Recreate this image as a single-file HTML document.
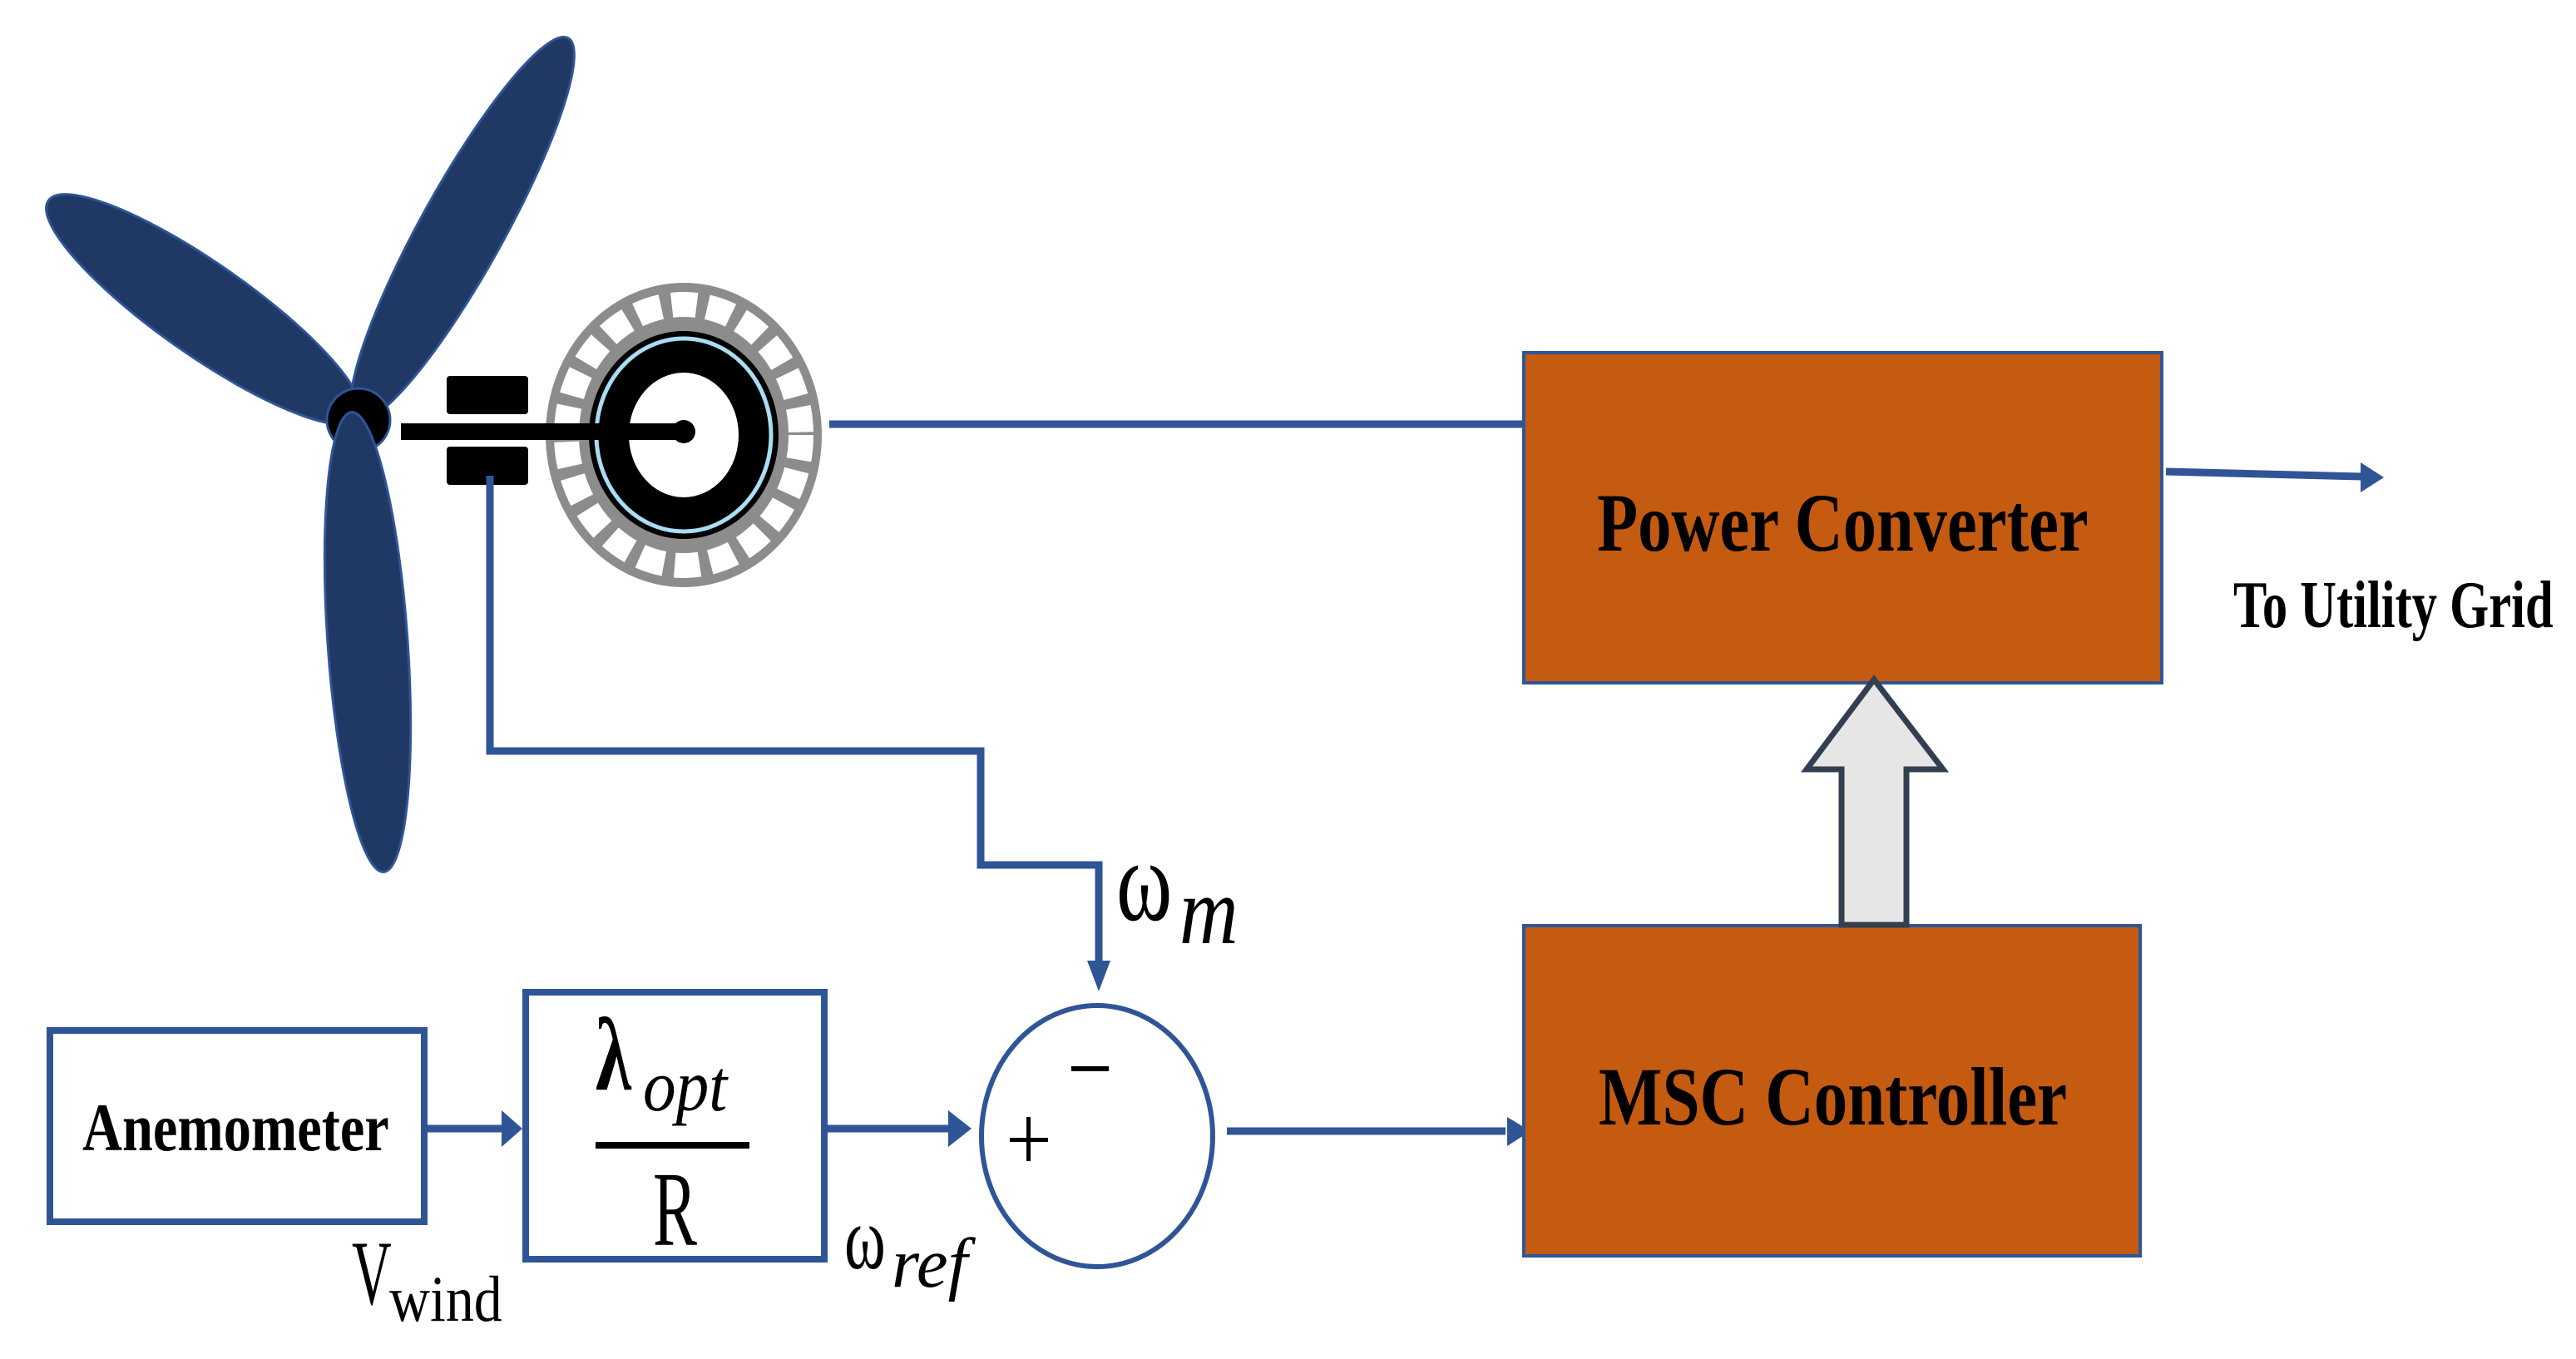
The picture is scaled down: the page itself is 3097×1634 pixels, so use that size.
<!DOCTYPE html>
<html><head><meta charset="utf-8"><style>
html,body{margin:0;padding:0;background:#fff;}
svg{display:block;}
.t{font-family:"Liberation Serif",serif;font-weight:bold;fill:#000;}
.s{font-family:"Liberation Serif",serif;fill:#000;}
</style></head><body>
<svg width="3097" height="1634" viewBox="0 0 3097 1634" xmlns="http://www.w3.org/2000/svg">
<rect width="3097" height="1634" fill="#fff"/>
<!-- blades -->
<g fill="#203864" stroke="#2f5597" stroke-width="3">
<ellipse cx="0" cy="0" rx="228" ry="55" transform="translate(245,372) rotate(35)"/>
<ellipse cx="0" cy="0" rx="262" ry="50" transform="translate(556,275) rotate(-61)"/>
</g>
<circle cx="431" cy="505" r="38" fill="#000" stroke="#2f5597" stroke-width="3"/>
<ellipse cx="0" cy="0" rx="277" ry="48" transform="translate(442,772) rotate(86)" fill="#203864" stroke="#2f5597" stroke-width="3"/>
<!-- generator -->
<ellipse cx="822" cy="523" rx="166" ry="183" fill="#8c8c8c"/>
<ellipse cx="822" cy="523" rx="141" ry="157" fill="none" stroke="#fff" stroke-width="30" stroke-dasharray="30 13"/>
<ellipse cx="822" cy="523" rx="114" ry="125" fill="#000"/>
<ellipse cx="822" cy="523" rx="105" ry="116" fill="none" stroke="#a8ddf2" stroke-width="5"/>
<ellipse cx="822" cy="523" rx="66" ry="75" fill="#fff"/>
<!-- coupling -->
<rect x="537" y="452" width="98" height="46" rx="4" fill="#000"/>
<rect x="537" y="537" width="98" height="46" rx="4" fill="#000"/>
<rect x="482" y="509" width="340" height="20" fill="#000"/>
<circle cx="822" cy="519" r="14" fill="#000"/>
<!-- lines -->
<g stroke="#2f5597" stroke-width="9" fill="none">
<line x1="997" y1="510" x2="1834" y2="510"/>
<polyline points="589,572 589,903 1179,903 1179,1040 1321,1040 1321,1165"/>
<line x1="512" y1="1357" x2="605" y2="1357"/>
<line x1="993" y1="1357" x2="1145" y2="1357"/>
<line x1="1475" y1="1360" x2="1810" y2="1360"/>
<line x1="2604" y1="567" x2="2840" y2="573"/>
</g>
<g fill="#2f5597">
<polygon points="1307,1155 1335,1155 1321,1192"/>
<polygon points="603,1335 628,1357 603,1379"/>
<polygon points="1140,1335 1168,1357 1140,1379"/>
<polygon points="1812,1343 1840,1360 1812,1378"/>
<polygon points="2838,556 2866,574 2838,592"/>
</g>
<!-- boxes -->
<rect x="60" y="1239" width="450" height="230" fill="#fff" stroke="#2f5597" stroke-width="8"/>
<rect x="632" y="1193" width="359" height="321" fill="#fff" stroke="#2f5597" stroke-width="8"/>
<ellipse cx="1319" cy="1366" rx="139" ry="157" fill="#fff" stroke="#2f5597" stroke-width="6"/>
<rect x="1832" y="424" width="767" height="397" fill="#c55a11" stroke="#2f5597" stroke-width="4"/>
<rect x="1832" y="1113" width="741" height="397" fill="#c55a11" stroke="#2f5597" stroke-width="4"/>
<!-- hollow arrow -->
<polygon points="2253,817 2172,925 2214,925 2214,1112 2292,1112 2292,925 2336,925" fill="#e6e6e6" stroke="#333f50" stroke-width="7"/>
<!-- text -->
<text class="t" x="0" y="0" font-size="100" transform="translate(1920,662) scale(0.805,1)">Power Converter</text>
<text class="t" x="0" y="0" font-size="100" transform="translate(1922,1352) scale(0.81,1)">MSC Controller</text>
<text class="t" x="0" y="0" font-size="80" transform="translate(2685,754) scale(0.757,1)">To Utility Grid</text>
<text class="t" x="0" y="0" font-size="82" transform="translate(99,1383) scale(0.81,1)">Anemometer</text>
<text class="s" x="0" y="0" font-size="140" transform="translate(1342,1106) scale(0.73,1)">ω</text>
<text class="s" x="0" y="0" font-size="115" font-style="italic" transform="translate(1418,1134) scale(0.85,1)">m</text>
<text class="t" x="0" y="0" font-size="125" transform="translate(716,1310) scale(0.7,1)">λ</text>
<text class="s" x="0" y="0" font-size="88" font-style="italic" transform="translate(773,1335) scale(0.9,1)">opt</text>
<rect x="716" y="1373" width="185" height="8" fill="#000"/>
<text class="s" x="0" y="0" font-size="128" transform="translate(785,1497) scale(0.62,1)">R</text>
<text class="s" x="0" y="0" font-size="108" transform="translate(1015,1525) scale(0.7,1)">ω</text>
<text class="s" x="0" y="0" font-size="85" font-style="italic" transform="translate(1072,1547)">ref</text>
<text class="s" x="0" y="0" font-size="110" transform="translate(423,1568) scale(0.6,1)">V</text>
<text class="s" x="0" y="0" font-size="78" transform="translate(468,1588) scale(0.87,1)">wind</text>
<rect x="1214" y="1368" width="46" height="5" fill="#000"/>
<rect x="1234" y="1343" width="5" height="53" fill="#000"/>
<rect x="1288" y="1282" width="45" height="6" fill="#000"/>
</svg>
</body></html>
